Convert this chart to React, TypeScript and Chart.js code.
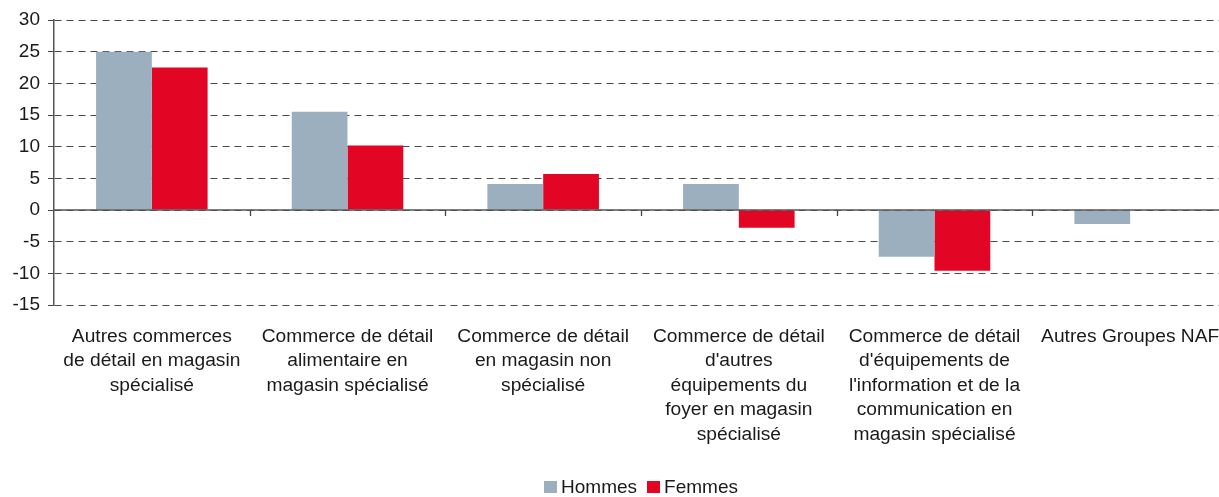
import React, { useEffect, useRef } from 'react';
import { Chart, registerables } from 'chart.js';

Chart.register(...registerables);

const categories: string[][] = [
  ['Autres commerces', 'de détail en magasin', 'spécialisé'],
  ['Commerce de détail', 'alimentaire en', 'magasin spécialisé'],
  ['Commerce de détail', 'en magasin non', 'spécialisé'],
  ['Commerce de détail', "d'autres", 'équipements du', 'foyer en magasin', 'spécialisé'],
  ['Commerce de détail', "d'équipements de", "l'information et de la", 'communication en', 'magasin spécialisé'],
  ['Autres Groupes NAF'],
];

const seriesNames = ['Hommes', 'Femmes'];
const hommes = [25, 15.5, 4.1, 4.1, -7.4, -2.2];
const femmes = [22.5, 10.2, 5.7, -2.8, -9.6, 0];

const yMin = -15;
const yMax = 30;
const yStep = 5;

const GRAY = '#9BAFBF';
const RED = '#E30524';
const TEXT = '#1a1a1a';
const FONT_FAMILY = '"Liberation Sans", Arial, Helvetica, sans-serif';

const zeroLinePlugin = {
  id: 'zeroLine',
  afterDatasetsDraw(chart: any) {
    const { ctx, chartArea, scales } = chart;
    const x = scales.x;
    const y = scales.y;
    const y0 = y.getPixelForValue(0);
    ctx.save();
    ctx.strokeStyle = '#555555';
    ctx.lineWidth = 1.5;
    ctx.beginPath();
    ctx.moveTo(chartArea.left, y0);
    ctx.lineTo(chartArea.right, y0);
    ctx.stroke();
    ctx.lineWidth = 1.3;
    ctx.strokeStyle = '#444444';
    for (let i = 1; i <= categories.length; i++) {
      const px = Math.round(x.getPixelForValue(i - 0.5)) + 0.5;
      ctx.beginPath();
      ctx.moveTo(px, y0);
      ctx.lineTo(px, y0 + 6);
      ctx.stroke();
    }
    ctx.restore();
  },
};

// Legend centred on the plot area, drawn from the datasets' labels and colours
const plotLegendPlugin = {
  id: 'plotLegend',
  afterDraw(chart: any) {
    const { ctx, chartArea } = chart;
    const datasets = chart.data.datasets;
    const boxW = 13;
    const boxH = 12;
    const gap = 4;
    const itemGap = 10;
    ctx.save();
    ctx.font = `19px ${FONT_FAMILY}`;
    const widths = datasets.map((d: any) => ctx.measureText(d.label).width);
    let total = 0;
    widths.forEach((w: number, i: number) => {
      total += boxW + gap + w + (i < widths.length - 1 ? itemGap : 0);
    });
    const cy = 487;
    let cx = (chartArea.left + chartArea.right) / 2 - total / 2;
    ctx.textBaseline = 'middle';
    ctx.textAlign = 'left';
    datasets.forEach((d: any, i: number) => {
      ctx.fillStyle = d.backgroundColor;
      ctx.fillRect(Math.round(cx), Math.round(cy - boxH / 2), boxW, boxH);
      cx += boxW + gap;
      ctx.fillStyle = TEXT;
      ctx.fillText(d.label, cx, cy + 1);
      cx += widths[i] + itemGap;
    });
    ctx.restore();
  },
};

export default function App() {
  const canvasRef = useRef<HTMLCanvasElement | null>(null);

  useEffect(() => {
    document.body.style.margin = '0';
    const canvas = canvasRef.current;
    if (!canvas) return;
    const chart = new Chart(canvas, {
      type: 'bar',
      data: {
        labels: categories,
        datasets: [
          {
            label: seriesNames[0],
            data: hommes,
            backgroundColor: GRAY,
            borderWidth: 0,
            categoryPercentage: 0.57,
            barPercentage: 1,
          },
          {
            label: seriesNames[1],
            data: femmes,
            backgroundColor: RED,
            borderWidth: 0,
            categoryPercentage: 0.57,
            barPercentage: 1,
          },
        ],
      },
      options: {
        responsive: false,
        animation: false,
        devicePixelRatio: 1,
        layout: { padding: { top: 20, left: 0, right: 0, bottom: 29 } },
        plugins: {
          legend: { display: false },
          tooltip: { enabled: false },
        },
        scales: {
          x: {
            type: 'category',
            offset: true,
            grid: { display: false, drawTicks: false },
            border: { display: false },
            ticks: {
              autoSkip: false,
              maxRotation: 0,
              minRotation: 0,
              padding: 19,
              color: TEXT,
              font: { family: FONT_FAMILY, size: 19.2, lineHeight: 1.276 },
            },
            afterFit(scale: any) {
              scale.height = 163;
              scale.paddingLeft = 0;
              scale.paddingRight = 0;
            },
          },
          y: {
            min: yMin,
            max: yMax,
            ticks: {
              stepSize: yStep,
              padding: 8,
              color: TEXT,
              font: { family: FONT_FAMILY, size: 19 },
            },
            grid: {
              color: '#4a4a4a',
              lineWidth: 1,
              tickLength: 6,
              tickColor: '#444444',
              drawTicks: true,
            },
            border: {
              display: true,
              color: '#555555',
              width: 1.5,
              dash: [7, 5],
            },
            afterFit(scale: any) {
              scale.width = 54;
            },
          },
        },
      },
      plugins: [zeroLinePlugin, plotLegendPlugin],
    });
    return () => {
      chart.destroy();
    };
  }, []);

  return (
    <div
      style={{
        position: 'absolute',
        left: 0,
        top: 0,
        width: 1219,
        height: 497,
        overflow: 'hidden',
        background: '#ffffff',
      }}
    >
      <canvas ref={canvasRef} width={1228} height={497} style={{ display: 'block', width: 1228, height: 497 }} />
    </div>
  );
}
